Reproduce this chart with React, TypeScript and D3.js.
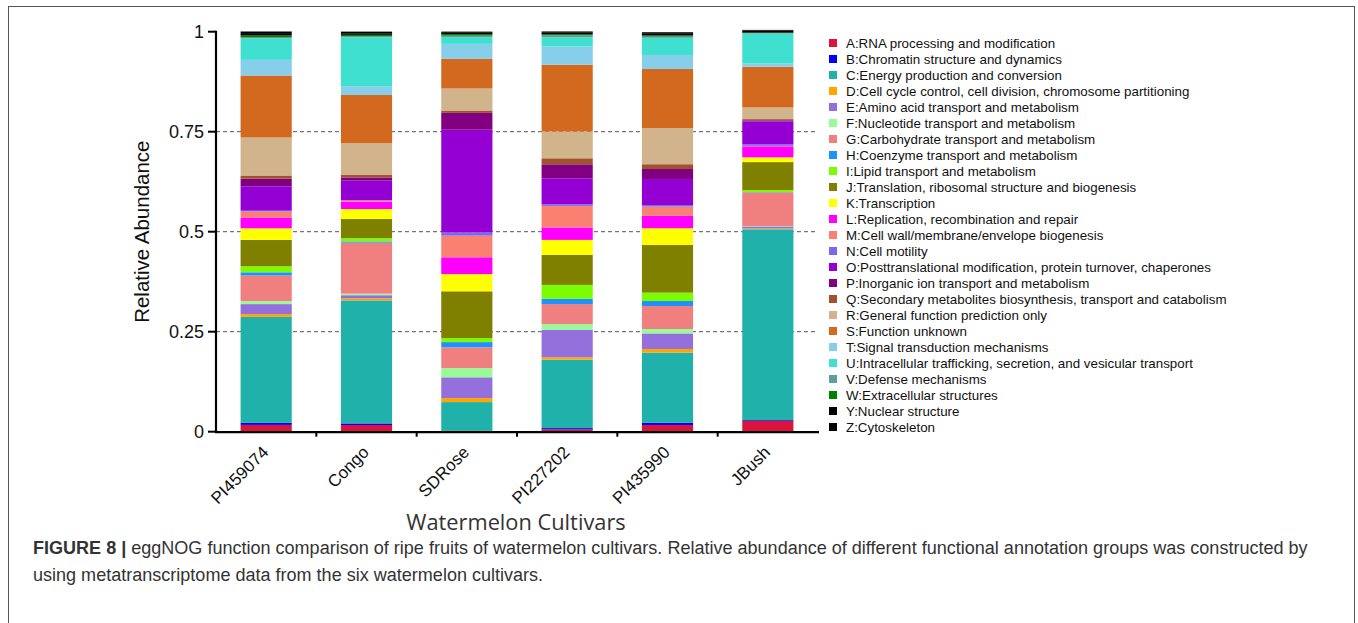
import React from "react";
import * as d3 from "d3";

const cultivars = ["PI459074", "Congo", "SDRose", "PI227202", "PI435990", "JBush"];

const groups = [
  "A:RNA processing and modification",
  "B:Chromatin structure and dynamics",
  "C:Energy production and conversion",
  "D:Cell cycle control, cell division, chromosome partitioning",
  "E:Amino acid transport and metabolism",
  "F:Nucleotide transport and metabolism",
  "G:Carbohydrate transport and metabolism",
  "H:Coenzyme transport and metabolism",
  "I:Lipid transport and metabolism",
  "J:Translation, ribosomal structure and biogenesis",
  "K:Transcription",
  "L:Replication, recombination and repair",
  "M:Cell wall/membrane/envelope biogenesis",
  "N:Cell motility",
  "O:Posttranslational modification, protein turnover, chaperones",
  "P:Inorganic ion transport and metabolism",
  "Q:Secondary metabolites biosynthesis, transport and catabolism",
  "R:General function prediction only",
  "S:Function unknown",
  "T:Signal transduction mechanisms",
  "U:Intracellular trafficking, secretion, and vesicular transport",
  "V:Defense mechanisms",
  "W:Extracellular structures",
  "Y:Nuclear structure",
  "Z:Cytoskeleton",
];

const colors = [
  "#DC143C", "#0000FF", "#20B2AA", "#FFA500", "#9370DB", "#98FB98", "#F08080",
  "#1E90FF", "#7CFC00", "#808000", "#FFFF00", "#FF00FF", "#FA8072", "#7B68EE",
  "#9400D3", "#800080", "#A0522D", "#D2B48C", "#D2691E", "#87CEEB", "#40E0D0",
  "#5F9EA0", "#008000", "#000000", "#000000",
];

// values per group (A..Z), in cultivar order
const PI459074 = [0.017, 0.005, 0.265, 0.007, 0.025, 0.0075, 0.064, 0.008, 0.015, 0.066, 0.029, 0.027, 0.015, 0.002, 0.061, 0.019, 0.008, 0.095, 0.155, 0.039, 0.054, 0.002, 0.005, 0.004, 0.006];
const Congo = [0.0167, 0.004, 0.3075, 0.005, 0.008, 0.004, 0.1275, 0.003, 0.008, 0.048, 0.025, 0.018, 0.003, 0.001, 0.049, 0.008, 0.006, 0.08, 0.12, 0.022, 0.1225, 0.002, 0.004, 0.004, 0.004];
const SDRose = [0.001, 0.001, 0.072, 0.01, 0.052, 0.023, 0.052, 0.013, 0.01, 0.117, 0.043, 0.042, 0.054, 0.008, 0.257, 0.042, 0.006, 0.055, 0.074, 0.0375, 0.0167, 0.004, 0.004, 0.003, 0.003];
const PI227202 = [0.006, 0.003, 0.171, 0.006, 0.069, 0.014, 0.05, 0.013, 0.035, 0.075, 0.0375, 0.031, 0.054, 0.004, 0.065, 0.035, 0.015, 0.067, 0.167, 0.046, 0.0225, 0.005, 0.003, 0.0033, 0.0033];
const PI435990 = [0.0167, 0.006, 0.175, 0.009, 0.039, 0.011, 0.0575, 0.0125, 0.021, 0.119, 0.042, 0.031, 0.023, 0.004, 0.065, 0.025, 0.012, 0.09, 0.148, 0.035, 0.043, 0.003, 0.003, 0.004, 0.004];
const JBush = [0.027, 0.002, 0.477, 0.002, 0.005, 0.001, 0.084, 0.001, 0.005, 0.07, 0.012, 0.0275, 0.001, 0.004, 0.057, 0.003, 0.003, 0.029, 0.102, 0.008, 0.075, 0.001, 0.001, 0.005, 0.002];

const seriesValues = [PI459074, Congo, SDRose, PI227202, PI435990, JBush];
const yTicks = [0, 0.25, 0.5, 0.75, 1];
const yTickLabels = ["0", "0.25", "0.5", "0.75", "1"];
const gridValues = [0.25, 0.5, 0.75];

export default function App() {
  const W = 1358, H = 623;
  const x = d3.scaleBand<string>().domain(cultivars).range([216, 818]).paddingInner(0.49).paddingOuter(0.245);
  const y = d3.scaleLinear().domain([0, 1]).range([431.7, 31.7]);

  const rows = cultivars.map((c, i) => {
    const r: any = { cultivar: c };
    groups.forEach((g, j) => (r[g] = seriesValues[i][j]));
    return r;
  });
  const stacked = d3.stack<any>().keys(groups)(rows);
  const bandStep = (818 - 216) / cultivars.length;
  const boundaries = d3.range(1, cultivars.length).map((k) => 216 + k * bandStep);

  const font = "Liberation Sans, Arial, Helvetica, sans-serif";

  return (
    <svg width={W} height={H} style={{ position: "absolute", left: 0, top: 0, background: "#fff" }}>
      <rect x={8.5} y={6.5} width={1346} height={640} fill="none" stroke="#555" strokeWidth={1} />
      {/* gridlines */}
      {gridValues.map((v) => (
        <line key={v} x1={216} x2={818} y1={y(v)} y2={y(v)} stroke="#555" strokeWidth={1} strokeDasharray="4,3" />
      ))}
      {/* bars */}
      {stacked.map((layer, j) => (
        <g key={groups[j]} fill={colors[j]}>
          {layer.map((d, i) => (
            <rect key={i} x={x(cultivars[i])} width={x.bandwidth()} y={y(d[1])} height={Math.max(0, y(d[0]) - y(d[1]))} />
          ))}
        </g>
      ))}
      {/* y axis */}
      <line x1={216} x2={216} y1={y(1) - 1} y2={y(0) + 1} stroke="#000" strokeWidth={2.2} />
      {yTicks.map((t, i) => (
        <g key={t}>
          <line x1={208} x2={216} y1={y(t)} y2={y(t)} stroke="#000" strokeWidth={2} />
          <text x={204} y={y(t)} dy="0.36em" textAnchor="end" fontFamily={font} fontSize={18} fill="#111">
            {yTickLabels[i]}
          </text>
        </g>
      ))}
      {/* x axis */}
      <line x1={215} x2={819} y1={y(0) + 0.5} y2={y(0) + 0.5} stroke="#000" strokeWidth={2.2} />
      {boundaries.map((bx) => (
        <line key={bx} x1={bx} x2={bx} y1={y(0)} y2={y(0) + 5} stroke="#000" strokeWidth={2} />
      ))}
      {cultivars.map((c) => {
        const cx = (x(c) as number) + x.bandwidth() / 2 - 5;
        const cy = 445;
        return (
          <text key={c} x={cx} y={cy} transform={`rotate(-45 ${cx} ${cy})`} textAnchor="end" dy="0.7em" fontFamily={font} fontSize={17} fill="#111">
            {c}
          </text>
        );
      })}
      {/* axis titles */}
      <text transform={`translate(149 ${y(0.5)}) rotate(-90)`} textAnchor="middle" fontFamily={font} fontSize={20.5} fill="#111">
        Relative Abundance
      </text>
      <text x={516} y={530} textAnchor="middle" fontFamily="Open Sans, sans-serif" fontSize={21.8} fill="#333">
        Watermelon Cultivars
      </text>
      {/* legend */}
      {groups.map((g, j) => (
        <g key={g} transform={`translate(829 ${43 + j * 16})`}>
          <rect x={0} y={-4} width={8} height={8} fill={colors[j]} />
          <text x={17} y={0} dy="0.35em" fontFamily={font} fontSize={13.35} fill="#111">
            {g}
          </text>
        </g>
      ))}
      {/* caption */}
      <text x={33} y={554} fontFamily={font} fontSize={18.05} fill="#333">
        <tspan fontWeight="bold">FIGURE 8 |</tspan>
        <tspan> eggNOG function comparison of ripe fruits of watermelon cultivars. Relative abundance of different functional annotation groups was constructed by</tspan>
      </text>
      <text x={33} y={581} fontFamily={font} fontSize={18.05} fill="#333">
        using metatranscriptome data from the six watermelon cultivars.
      </text>
    </svg>
  );
}
